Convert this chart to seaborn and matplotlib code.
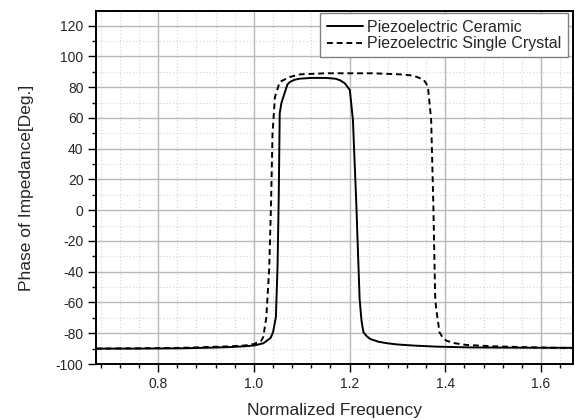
import matplotlib
matplotlib.use("Agg")
import matplotlib.pyplot as plt
from matplotlib.ticker import MultipleLocator
import seaborn as sns
import pandas as pd

# ---- data ----
ceramic_freq = [0.67, 0.75, 0.85, 0.92, 0.95, 0.98, 1.00, 1.02, 1.035, 1.040, 1.046,
                1.0495, 1.052, 1.054, 1.0575, 1.064, 1.070, 1.0755, 1.085, 1.096, 1.12,
                1.15, 1.17, 1.180, 1.190, 1.197, 1.2006, 1.207, 1.214, 1.221, 1.225,
                1.229, 1.236, 1.243, 1.26, 1.278, 1.30, 1.333, 1.38, 1.45, 1.55, 1.667]
ceramic_phase = [-90, -90, -89.8, -89.3, -89, -88.5, -88, -86.5, -83, -79.4, -69.5,
                 -36, 10, 63, 69.6, 76, 81.7, 83.4, 84.8, 85.5, 86,
                 86, 85.5, 84.5, 82.5, 79.6, 78, 58.7, 4.8, -57.8, -72,
                 -79.4, -82, -83.7, -85.5, -86.5, -87.3, -88, -88.7, -89.2, -89.4, -89.5]

crystal_freq = [0.67, 0.75, 0.85, 0.90, 0.95, 0.98, 1.00, 1.015, 1.0195, 1.026, 1.032,
                1.0355, 1.039, 1.044, 1.054, 1.075, 1.096, 1.15, 1.25, 1.306, 1.333,
                1.354, 1.360, 1.364, 1.3705, 1.375, 1.379, 1.381, 1.388, 1.395, 1.402,
                1.42, 1.444, 1.5, 1.6, 1.667]
crystal_phase = [-90, -89.8, -89.5, -89, -88.5, -88, -87, -85, -82.6, -69.7, -38,
                 0, 50, 73.6, 83.4, 86.6, 88.3, 89, 89, 88.3, 87.5,
                 85, 82.5, 79.6, 58.7, 4.8, -57.8, -64, -79.4, -83, -84.8,
                 -86.5, -87.6, -88.5, -89.3, -89.6]

series_names = ["Piezoelectric Ceramic", "Piezoelectric Single Crystal"]
x_label = "Normalized Frequency"
y_label = "Phase of Impedance[Deg.]"

df_ceramic = pd.DataFrame({"freq": ceramic_freq, "phase": ceramic_phase})
df_crystal = pd.DataFrame({"freq": crystal_freq, "phase": crystal_phase})

sns.set_style("white")
plt.rcParams["font.family"] = ["Liberation Sans", "DejaVu Sans"]
plt.rcParams["axes.unicode_minus"] = False

fig = plt.figure(figsize=(5.75, 4.2), dpi=100)
ax = fig.add_axes([96 / 575, 1 - 364 / 420, 477 / 575, 353 / 420])

sns.lineplot(data=df_ceramic, x="freq", y="phase", ax=ax, color="black",
             linewidth=1.4, label=series_names[0], sort=False)
sns.lineplot(data=df_crystal, x="freq", y="phase", ax=ax, color="black",
             linewidth=1.4, label=series_names[1], sort=False, linestyle=(0, (3, 2)))

ax.set_xlim(0.67, 1.667)
ax.set_ylim(-100, 129.5)
ax.xaxis.set_major_locator(MultipleLocator(0.2))
ax.xaxis.set_minor_locator(MultipleLocator(0.04))
ax.yaxis.set_major_locator(MultipleLocator(20))
ax.yaxis.set_minor_locator(MultipleLocator(10))
ax.xaxis.set_major_formatter(matplotlib.ticker.FormatStrFormatter("%.1f"))

ax.grid(True, which="major", color="#b8b8b8", linewidth=1.0, linestyle="-")
ax.grid(True, which="minor", color="#d4d4d4", linewidth=0.8, linestyle=(0, (1, 2)))
ax.set_axisbelow(True)

for s in ax.spines.values():
    s.set_color("black")
    s.set_linewidth(1.4)
    s.set_visible(True)

ax.tick_params(which="major", direction="out", length=6, width=1.0, labelsize=10,
               color="black", left=True, bottom=True, pad=3)
ax.tick_params(which="minor", direction="out", length=3, width=1.0, color="black",
               left=True, bottom=True)

ax.set_xlabel(x_label, fontsize=12.5, labelpad=9)
ax.set_ylabel(y_label, fontsize=12.5, labelpad=16)

leg = ax.legend(loc="upper right", bbox_to_anchor=(0.9895, 0.994), borderaxespad=0,
                fontsize=11.5, frameon=True, fancybox=False, framealpha=1,
                edgecolor="#808080", handlelength=2.3, handletextpad=0.25,
                labelspacing=0.1, borderpad=0.4)
leg.get_frame().set_linewidth(1.0)

fig.savefig("out.png", dpi=100)
